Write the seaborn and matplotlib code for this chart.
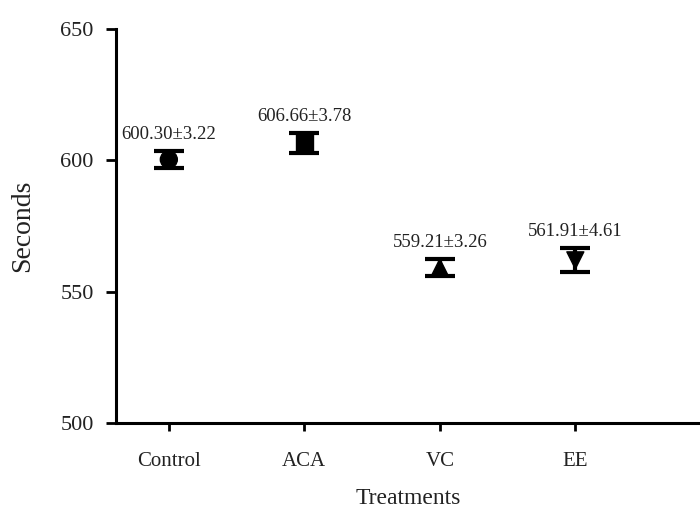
import numpy as np
import pandas as pd
import matplotlib
matplotlib.use("Agg")
import matplotlib.pyplot as plt
import seaborn as sns

treatments = ["Control", "ACA", "VC", "EE"]
means = [600.30, 606.66, 559.21, 561.91]
sems = [3.22, 3.78, 3.26, 4.61]
markers = ["o", "s", "^", "v"]

sns.set_style("ticks", {"axes.edgecolor": "black", "xtick.color": "black",
                        "ytick.color": "black", "text.color": "black",
                        "axes.labelcolor": "black"})
plt.rcParams["font.family"] = ["Liberation Serif", "DejaVu Serif"]

df = pd.DataFrame({"Treatments": treatments, "Seconds": means, "sem": sems})

fig = plt.figure(figsize=(7, 5.09), dpi=100)
ax = fig.add_axes([0.1657, 0.169, 0.8343, 0.774])

sns.scatterplot(data=df, x="Treatments", y="Seconds", style="Treatments",
                markers=dict(zip(treatments, markers)), s=150, color="black",
                edgecolor="black", legend=False, ax=ax, zorder=3)
ax.errorbar(np.arange(len(treatments)), means, yerr=sems, fmt="none",
            ecolor="black", elinewidth=3, capsize=11, capthick=3, zorder=2)

for i, (m, s) in enumerate(zip(means, sems)):
    ax.annotate(f"{m:.2f}±{s:.2f}", (i, m + s), xytext=(0, 6),
                textcoords="offset points", ha="center", va="bottom",
                fontsize=13.5, color="#222222")

ax.set_ylim(500, 650)
ax.set_yticks([500, 550, 600, 650])
ax.set_xlim(-0.39, 3.92)
ax.set_xlabel("Treatments", fontsize=17, labelpad=12, color="#222222")
ax.set_ylabel("Seconds", fontsize=20, labelpad=18, color="#222222")
ax.tick_params(axis="y", labelsize=16, length=7, width=2, pad=9, labelcolor="#222222")
ax.tick_params(axis="x", labelsize=15, length=6, width=2, pad=15, labelcolor="#222222")
sns.despine(ax=ax)
for sp in ["left", "bottom"]:
    ax.spines[sp].set_linewidth(2.2)

fig.savefig("out.png", dpi=100)
